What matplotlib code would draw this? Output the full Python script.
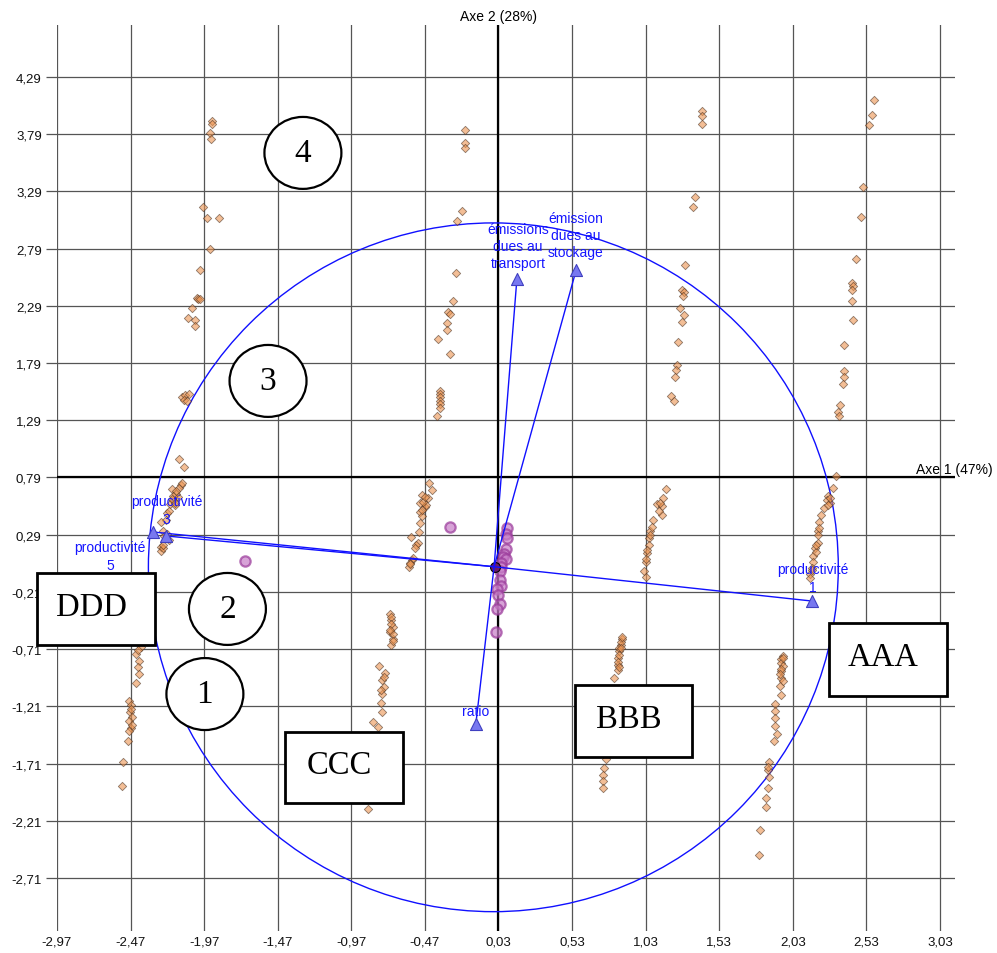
import matplotlib
matplotlib.use("Agg")
import matplotlib.pyplot as plt
from matplotlib.patches import Ellipse, Rectangle

plt.rcParams['font.family'] = ['Liberation Sans', 'DejaVu Sans']

# ---------------- data ----------------
x_ticks = [-2.97, -2.47, -1.97, -1.47, -0.97, -0.47, 0.03, 0.53, 1.03, 1.53, 2.03, 2.53, 3.03]
x_tick_labels = ["-2,97", "-2,47", "-1,97", "-1,47", "-0,97", "-0,47", "0,03", "0,53",
                 "1,03", "1,53", "2,03", "2,53", "3,03"]
y_ticks = [4.29, 3.79, 3.29, 2.79, 2.29, 1.79, 1.29, 0.79, 0.29, -0.21, -0.71, -1.21, -1.71, -2.21, -2.71]
y_tick_labels = ["4,29", "3,79", "3,29", "2,79", "2,29", "1,79", "1,29", "0,79", "0,29", "-0,21",
                 "-0,71", "-1,21", "-1,71", "-2,21", "-2,71"]

axis1_label = "Axe 1 (47%)"
axis2_label = "Axe 2 (28%)"

# individuals (orange diamonds), grouped by streak
left_x = [-1.92, -1.92, -1.93, -1.925, -1.98, -1.95, -1.87, -1.93, -2.00, -2.02, -2.01, -2.00, -2.05,
          -2.08, -2.03, -2.03, -2.12, -2.10, -2.07, -2.11, -2.09, -2.14, -2.11, -2.13, -2.19, -2.16,
          -2.18, -2.20, -2.15, -2.17, -2.22, -2.23, -2.26, -2.25, -2.22, -2.21, -2.26, -2.26, -2.25,
          -2.14, -2.16, -2.18, -2.19, -2.21, -2.25, -2.24, -2.12, -2.17]
left_y = [3.91, 3.88, 3.80, 3.75, 3.15, 3.06, 3.06, 2.79, 2.60, 2.36, 2.35, 2.35, 2.27,
          2.18, 2.17, 2.11, 1.49, 1.51, 1.52, 1.47, 1.46, 0.95, 0.88, 0.72, 0.69, 0.65,
          0.59, 0.56, 0.62, 0.55, 0.48, 0.42, 0.40, 0.32, 0.30, 0.24, 0.18, 0.15, 0.17,
          0.70, 0.67, 0.63, 0.60, 0.50, 0.20, 0.28, 0.74, 0.57]

far_left_x = [-2.41, -2.40, -2.41, -2.42, -2.40, -2.43, -2.41, -2.42, -2.41, -2.43, -2.48, -2.47,
              -2.475, -2.46, -2.48, -2.47, -2.48, -2.485, -2.52, -2.53, -2.42, -2.47, -2.46]
far_left_y = [-0.40, -0.45, -0.58, -0.64, -0.69, -0.75, -0.81, -0.87, -0.93, -1.01, -1.16, -1.20,
              -1.26, -1.30, -1.34, -1.40, -1.43, -1.51, -1.70, -1.91, -0.72, -1.23, -1.37]

mid_left_x = [-0.20, -0.20, -0.20, -0.22, -0.25, -0.26, -0.28, -0.31, -0.30, -0.32, -0.32, -0.38,
              -0.30, -0.37, -0.37, -0.37, -0.37, -0.37, -0.37, -0.39,
              -0.445, -0.42, -0.49, -0.45, -0.50, -0.47, -0.46, -0.50, -0.49, -0.50, -0.51, -0.565,
              -0.52, -0.53, -0.54, -0.56, -0.58, -0.57, -0.48, -0.47, -0.49, -0.55, -0.57]
mid_left_y = [3.83, 3.71, 3.67, 3.12, 3.03, 2.58, 2.33, 2.24, 2.22, 2.14, 2.08, 2.00,
              1.87, 1.55, 1.52, 1.49, 1.46, 1.43, 1.40, 1.33,
              0.74, 0.68, 0.64, 0.61, 0.57, 0.53, 0.55, 0.49, 0.45, 0.39, 0.31, 0.27,
              0.22, 0.20, 0.17, 0.07, 0.01, 0.04, 0.58, 0.62, 0.51, 0.09, 0.03]

low_left_x = [-0.71, -0.70, -0.69, -0.71, -0.69, -0.70, -0.70, -0.69, -0.78, -0.74, -0.76, -0.75,
              -0.76, -0.77, -0.76, -0.82, -0.79, -0.80, -0.81, -0.86, -0.70, -0.71, -0.69, -0.75,
              -0.77]
low_left_y = [-0.40, -0.46, -0.52, -0.56, -0.62, -0.67, -0.43, -0.58, -0.86, -0.92, -0.98, -1.04,
              -1.10, -1.18, -1.26, -1.35, -1.39, -1.55, -1.70, -2.11, -0.49, -0.54, -0.64, -0.95,
              -1.07]

mid_right_x = [1.415, 1.415, 1.415, 1.365, 1.35, 1.30, 1.28, 1.29, 1.285, 1.26, 1.29, 1.28, 1.25,
               1.24, 1.235, 1.23, 1.20, 1.22,
               1.17, 1.15, 1.11, 1.14, 1.14, 1.08, 1.06, 1.05, 1.05, 1.04, 1.03, 1.02, 1.03, 1.07,
               1.12, 1.13, 1.06, 1.04, 1.03]
mid_right_y = [3.99, 3.95, 3.88, 3.24, 3.15, 2.65, 2.43, 2.41, 2.38, 2.27, 2.21, 2.15, 1.97,
               1.77, 1.73, 1.67, 1.50, 1.46,
               0.69, 0.61, 0.56, 0.54, 0.46, 0.42, 0.32, 0.26, 0.20, 0.13, 0.05, -0.03, -0.08, 0.36,
               0.50, 0.57, 0.29, 0.16, 0.08]

low_mid_x = [0.87, 0.86, 0.85, 0.84, 0.84, 0.84, 0.815, 0.86, 0.85, 0.76, 0.75, 0.74, 0.74, 0.74,
             0.87, 0.86, 0.85, 0.84, 0.85]
low_mid_y = [-0.62, -0.67, -0.73, -0.79, -0.85, -0.89, -0.96, -0.65, -0.70, -1.67, -1.75, -1.81,
             -1.86, -1.92, -0.60, -0.70, -0.76, -0.82, -0.87]

right_x = [2.58, 2.57, 2.55, 2.51, 2.49, 2.46, 2.43, 2.44, 2.43, 2.43, 2.44, 2.38, 2.38, 2.375,
           2.37, 2.35, 2.34, 2.345,
           2.32, 2.30, 2.27, 2.26, 2.28, 2.24, 2.22, 2.21, 2.20, 2.20, 2.20, 2.18, 2.17, 2.17,
           2.15, 2.15, 2.19, 2.16, 2.28, 2.27, 2.21, 2.19, 2.16]
right_y = [4.09, 3.96, 3.87, 3.33, 3.07, 2.70, 2.49, 2.46, 2.43, 2.33, 2.17, 1.95, 1.72, 1.67,
           1.61, 1.42, 1.36, 1.33,
           0.80, 0.70, 0.63, 0.59, 0.57, 0.52, 0.46, 0.40, 0.32, 0.29, 0.22, 0.17, 0.10, 0.05,
           -0.05, -0.09, 0.14, 0.00, 0.61, 0.55, 0.35, 0.20, -0.02]

low_right_x = [1.96, 1.95, 1.95, 1.96, 1.95, 1.95, 1.94, 1.95, 1.91, 1.91, 1.91, 1.91, 1.90, 1.87,
               1.86, 1.87, 1.86, 1.85, 1.85, 1.81, 1.80, 1.96, 1.95, 1.94, 1.96, 1.92, 1.86]
low_right_y = [-0.77, -0.80, -0.83, -0.86, -0.90, -0.96, -1.03, -1.11, -1.19, -1.25, -1.31, -1.38,
               -1.51, -1.70, -1.77, -1.83, -1.92, -2.01, -2.09, -2.29, -2.51, -0.79, -0.88, -0.93,
               -0.99, -1.45, -1.74]

# supplementary points (purple circles)
supp_x = [0.085, 0.08, 0.09, 0.08, 0.07, 0.06, 0.08, 0.05, 0.05, 0.04, 0.04, 0.046, 0.02, 0.028,
          0.04, 0.02, 0.012, -0.30, -1.69]
supp_y = [0.346, 0.30, 0.26, 0.165, 0.12, 0.095, 0.08, 0.04, 0.005, -0.025, -0.11, -0.155, -0.185,
          -0.24, -0.315, -0.36, -0.56, 0.355, 0.06]
centre_x = [0.005]
centre_y = [0.01]

# variables (vectors of the correlation circle)
var_names = ["émissions\ndues au\ntransport", "émission\ndues au\nstockage",
             "productivité\n5", "productivité\n3", "productivité\n1", "ratio"]
var_x = [0.155, 0.557, -2.32, -2.23, 2.16, -0.124]
var_y = [2.525, 2.60, 0.314, 0.279, -0.29, -1.365]

# ---------------- layout ----------------
fig = plt.figure(figsize=(9.97, 9.54), dpi=100)
ax = fig.add_axes([57 / 997, 22 / 954, 898 / 997, 906 / 954])
ax.set_xlim(-2.97, 3.132)
ax.set_ylim(-3.174, 4.745)
for sp in ax.spines.values():
    sp.set_visible(False)

ax.set_xticks(x_ticks)
ax.set_xticklabels(x_tick_labels)
ax.set_yticks(y_ticks)
ax.set_yticklabels(y_tick_labels)
ax.grid(True, color='#555555', lw=0.9)
ax.set_axisbelow(True)
ax.tick_params(axis='x', length=0, pad=3, labelsize=9.5, labelcolor='#111111')
ax.tick_params(axis='y', length=8, width=0.9, color='#555555', pad=3, labelsize=9.5,
               labelcolor='#111111')

# factorial axes
ax.axvline(0.03, color='black', lw=1.6, zorder=1)
ax.axhline(0.79, color='black', lw=1.6, zorder=1)
fig.text(499 / 997, 1 - 17 / 954, axis2_label, ha='center', va='center', fontsize=10)
fig.text(993 / 997, 1 - 470 / 954, axis1_label, ha='right', va='center', fontsize=10)

# correlation circle
ax.add_patch(Ellipse((-0.005, 0.005), 4.688, 6.02, fill=False, edgecolor='#1010ff', lw=1.0,
                     zorder=2))

# individuals
groups = [(left_x, left_y), (far_left_x, far_left_y), (mid_left_x, mid_left_y),
          (low_left_x, low_left_y), (mid_right_x, mid_right_y), (low_mid_x, low_mid_y),
          (right_x, right_y), (low_right_x, low_right_y)]
for gx, gy in groups:
    ax.scatter(gx, gy, marker='D', s=18, facecolor='#ec9450', edgecolor='#4a3020',
               linewidths=0.6, alpha=0.6, zorder=3)

ax.scatter(supp_x, supp_y, marker='o', s=55, facecolor='#c77dc7', edgecolor='#9a3a9a',
           linewidths=1.6, alpha=0.7, zorder=4)
ax.scatter(centre_x, centre_y, marker='o', s=50, facecolor='#6a1a6a', edgecolor='black',
           linewidths=0.8, zorder=4)

# vectors
ox, oy = 0.0, 0.01
for vx, vy in zip(var_x, var_y):
    ax.plot([ox, vx], [oy, vy], color='#1010ff', lw=1.0, zorder=5)
ax.scatter(var_x, var_y, marker='^', s=75, facecolor='#7878f0', edgecolor='#4040c0',
           linewidths=0.8, zorder=6)

label_pos = [(0.162, 2.814), (0.556, 2.910), (-2.610, 0.104), (-2.225, 0.506),
             (2.166, -0.089), (-0.124, -1.251)]
for name, (lx, ly) in zip(var_names, label_pos):
    ax.text(lx, ly, name, ha='center', va='center', fontsize=10, color='#1515ff',
            linespacing=1.3, zorder=7)

# circled numbers
circ_labels = ["4", "3", "2", "1"]
circ_pos = [(-1.299, 3.627), (-1.536, 1.634), (-1.812, -0.359), (-1.965, -1.103)]
for t, (cx, cy) in zip(circ_labels, circ_pos):
    ax.add_patch(Ellipse((cx, cy), 0.523, 0.629, facecolor='white', edgecolor='black',
                         lw=1.6, zorder=8))
    ax.text(cx, cy, t, ha='center', va='center', fontsize=24, family='Liberation Serif',
            zorder=9)

# boxed group labels
box_labels = ["DDD", "AAA", "BBB", "CCC"]
box_rects = [(-3.106, -0.674, 0.802, 0.629), (2.275, -1.120, 0.802, 0.638),
             (0.550, -1.653, 0.795, 0.629), (-1.421, -2.055, 0.802, 0.620)]
for t, (bx, by, bw, bh) in zip(box_labels, box_rects):
    ax.add_patch(Rectangle((bx, by), bw, bh, facecolor='white', edgecolor='black', lw=2.0,
                           zorder=10, clip_on=False))
    ax.text(bx + bw / 2 - 0.03, by + bh / 2 + 0.02, t, ha='center', va='center', fontsize=23.5,
            family='Liberation Serif', zorder=11, clip_on=False)

fig.savefig("out.png", dpi=100)
